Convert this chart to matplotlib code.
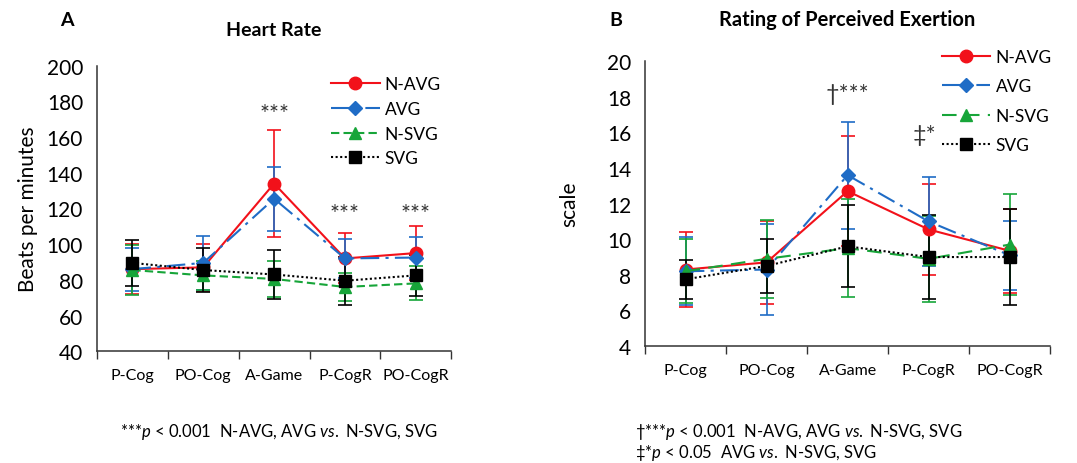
import numpy as np, matplotlib
matplotlib.use("Agg")
import matplotlib.pyplot as plt

plt.rcParams["font.family"] = ["Lato", "DejaVu Sans"]
plt.rcParams["mathtext.fontset"] = "custom"
plt.rcParams["mathtext.rm"] = "Lato"
plt.rcParams["mathtext.it"] = "Lato:italic"

phases = ["P-Cog", "PO-Cog", "A-Game", "P-CogR", "PO-CogR"]
groups = ["N-AVG", "AVG", "N-SVG", "SVG"]

# Heart rate (beats/min), mean and SD
hr_navg = [86, 87, 134, 92, 95]
hr_navg_sd = [14, 13, 30, 14, 15]
hr_avg = [86, 89.5, 125.5, 92, 92.5]
hr_avg_sd = [12, 15, 18, 11, 11.5]
hr_nsvg = [85.5, 82.5, 80.5, 76, 78]
hr_nsvg_sd = [14, 8, 10, 8, 9.5]
hr_svg = [89.5, 85.5, 83, 79.5, 82.5]
hr_svg_sd = [13, 12.5, 13.5, 13.5, 11.5]

# Rating of perceived exertion, mean and SD
rpe_navg = [8.3, 8.7, 12.7, 10.55, 9.35]
rpe_navg_sd = [2.1, 2.35, 3.1, 2.55, 2.35]
rpe_avg = [8.2, 8.3, 13.6, 11.0, 9.1]
rpe_avg_sd = [1.9, 2.55, 3.0, 2.5, 1.95]
rpe_nsvg = [8.2, 8.9, 9.5, 8.9, 9.7]
rpe_nsvg_sd = [1.8, 2.2, 2.75, 2.4, 2.85]
rpe_svg = [7.75, 8.5, 9.6, 9.0, 9.0]
rpe_svg_sd = [1.1, 1.5, 2.3, 2.35, 2.7]

styles = {
    "N-AVG": dict(color="#f2111a", ls="-", marker="o", ms=9),
    "AVG": dict(color="#1f6cc6", ls=(0, (9, 3, 1.5, 3)), marker="D", ms=7),
    "N-SVG": dict(color="#17a539", ls=(0, (4, 2)), marker="^", ms=9),
    "SVG": dict(color="black", ls=(0, (1, 1.2)), marker="s", ms=9),
}

fig = plt.figure(figsize=(10.77, 4.64), dpi=100)
axA = fig.add_axes([0.090, 0.241, 0.329, 0.615])
axB = fig.add_axes([0.599, 0.252, 0.376, 0.614])

x = np.arange(len(phases))

def panel(ax, data, nsvg_dash, anchor, spacing):
    for g, (m, sd) in zip(groups, data):
        st = dict(styles[g])
        if g == "N-SVG":
            st["ls"] = nsvg_dash
        ax.errorbar(x, m, yerr=sd, color=st["color"], ls="none", capsize=5,
                    elinewidth=1.2, capthick=1.2, zorder=2)
        ax.plot(x, m, color=st["color"], ls=st["ls"], lw=1.5, marker=st["marker"],
                ms=st["ms"], mec=st["color"], mfc=st["color"], label=g, zorder=3)
    ax.set_xlim(-0.5, 4.5)
    ax.set_xticks(np.arange(-0.5, 5, 1))
    ax.set_xticklabels([])
    ax.set_xticks(x, minor=True)
    ax.set_xticklabels(phases, minor=True, fontsize=11.5)
    ax.tick_params(axis="x", which="major", direction="out", length=6, width=1, color="#333")
    ax.tick_params(axis="x", which="minor", length=0, pad=12)
    ax.tick_params(axis="y", length=0, labelsize=15, pad=10)
    for s in ["top", "right"]:
        ax.spines[s].set_visible(False)
    for s in ["left", "bottom"]:
        ax.spines[s].set_color("#333")
        ax.spines[s].set_linewidth(1.1)
    ax.legend(loc="upper right", bbox_to_anchor=anchor, frameon=False, fontsize=12.5,
              handlelength=2.8, labelspacing=spacing, borderaxespad=0.2, handletextpad=0.3)

panel(axA, [(hr_navg, hr_navg_sd), (hr_avg, hr_avg_sd), (hr_nsvg, hr_nsvg_sd), (hr_svg, hr_svg_sd)],
      (0, (4, 2)), (1.0, 1.0), 0.5)
axA.set_ylim(40, 200)
axA.set_yticks(range(40, 201, 20))
axA.set_ylabel("Beats per minutes", fontsize=15, labelpad=6)
axA.set_title("Heart Rate", fontsize=14, fontweight="bold", pad=22)
for xi, yi in [(2, 173), (3, 117), (4, 117)]:
    axA.text(xi, yi, "***", ha="center", va="center", fontsize=17, color="#333")

panel(axB, [(rpe_navg, rpe_navg_sd), (rpe_avg, rpe_avg_sd), (rpe_nsvg, rpe_nsvg_sd), (rpe_svg, rpe_svg_sd)],
      (0, (7, 4)), (1.03, 1.08), 0.78)
axB.set_ylim(4, 20)
axB.set_yticks(range(4, 21, 2))
axB.set_ylabel("scale", fontsize=15, labelpad=20)
axB.set_title("Rating of Perceived Exertion", fontsize=14.5, fontweight="bold", pad=26)
axB.text(2, 18.2, "\u2020***", ha="center", va="center", fontsize=17, color="#333")
axB.text(2.95, 15.9, "\u2021*", ha="center", va="center", fontsize=17, color="#333")

fig.text(0.056, 0.945, "A", fontsize=14, fontweight="bold")
fig.text(0.566, 0.945, "B", fontsize=14, fontweight="bold")

fig.text(0.111, 0.069, "***$p$ < 0.001  N-AVG, AVG $vs.$ N-SVG, SVG", fontsize=12, va="center")
fig.text(0.590, 0.069, "\u2020***$p$ < 0.001  N-AVG, AVG $vs.$ N-SVG, SVG", fontsize=12, va="center")
fig.text(0.590, 0.024, "\u2021*$p$ < 0.05  AVG $vs.$ N-SVG, SVG", fontsize=12, va="center")

fig.savefig("out.png", dpi=100, facecolor="white")
